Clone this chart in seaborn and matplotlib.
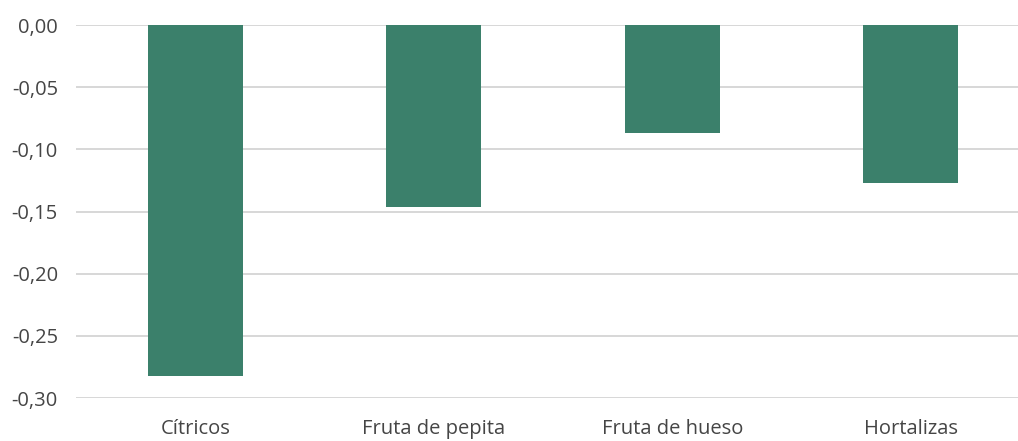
import matplotlib
matplotlib.use("Agg")
import matplotlib.pyplot as plt
import seaborn as sns
import pandas as pd
from matplotlib.ticker import FuncFormatter

categories = ["Cítricos", "Fruta de pepita", "Fruta de hueso", "Hortalizas"]
values = [-0.282, -0.146, -0.087, -0.127]
yticks = [0.0, -0.05, -0.10, -0.15, -0.20, -0.25, -0.30]

df = pd.DataFrame({"cat": categories, "val": values})

sns.set_theme(style="white")
plt.rcParams['font.family'] = ['Open Sans', 'DejaVu Sans']

fig = plt.figure(figsize=(10.18, 4.41), dpi=100)
ax = fig.add_axes([76/1018, 1 - 398/441, 1 - 76/1018, (398 - 25)/441])

sns.barplot(data=df, x="cat", y="val", color="#3b806b", saturation=1,
            width=0.4, ax=ax, edgecolor="none", zorder=3)

ax.set_ylim(-0.30, 0.0)
ax.set_xlim(-0.5, 3.45)
ax.set_yticks(yticks)
ax.yaxis.set_major_formatter(FuncFormatter(lambda v, p: f"{v:.2f}".replace(".", ",").replace("-0,00", "0,00")))
ax.grid(axis="y", color="#d4d4d4", linewidth=1.3, zorder=0)
ax.set_axisbelow(True)
for s in ax.spines.values():
    s.set_visible(False)
ax.tick_params(axis="both", length=0, labelsize=14.5, colors="#454545")
ax.tick_params(axis="y", pad=13)
ax.tick_params(axis="x", pad=15)
ax.set_xlabel("")
ax.set_ylabel("")

fig.savefig("out.png", dpi=100)
